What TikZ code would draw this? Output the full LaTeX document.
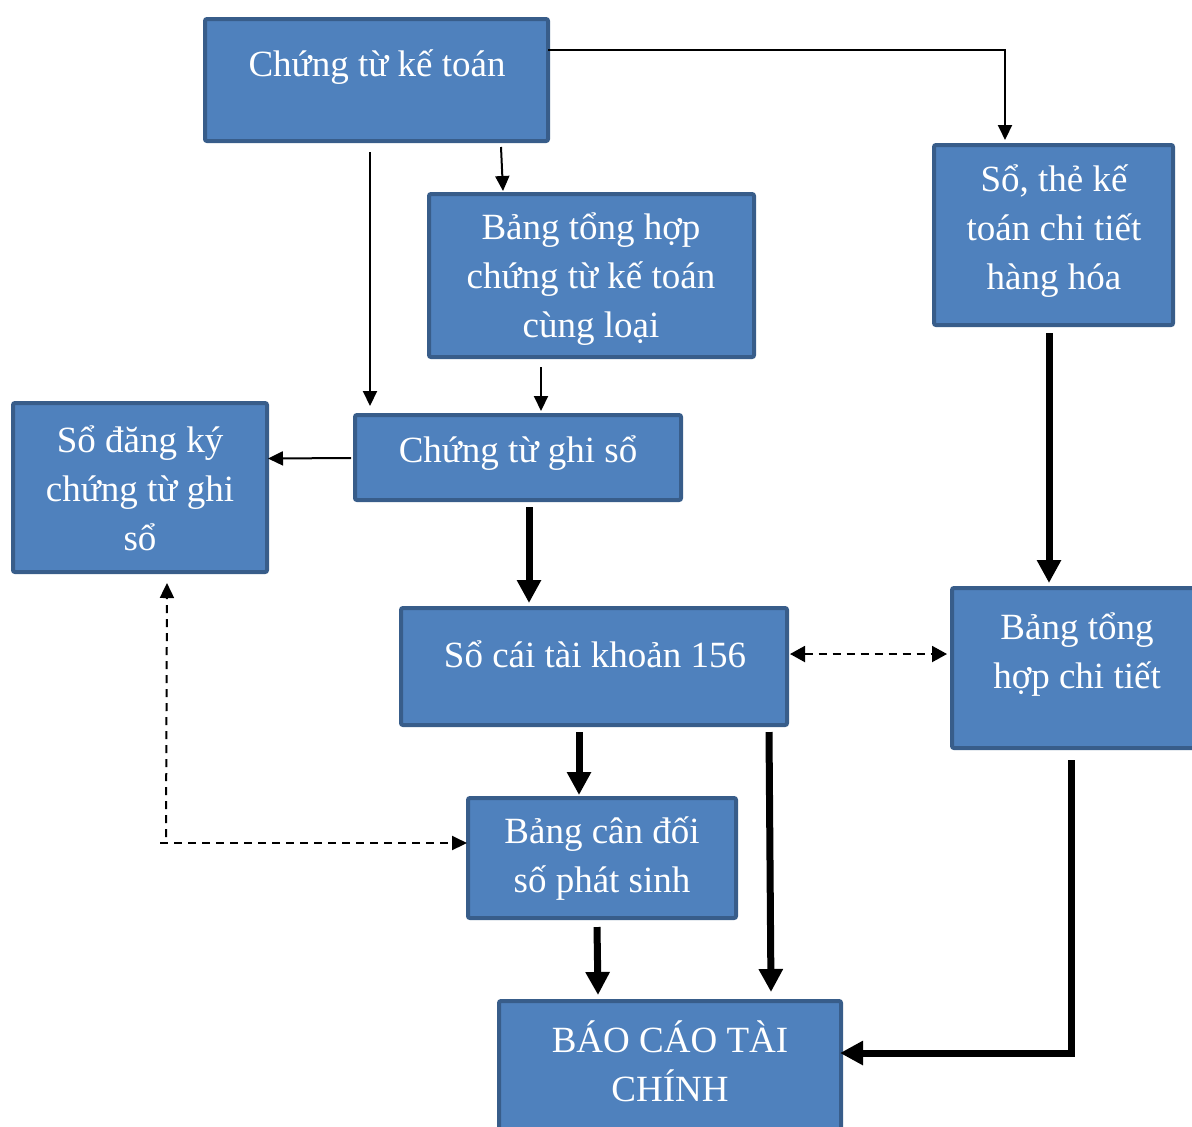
\documentclass[tikz,border=0pt]{standalone}
\usepackage{fontspec}
\setmainfont{Liberation Serif}
\usetikzlibrary{arrows.meta,calc}
\definecolor{boxfill}{HTML}{4F81BD}
\definecolor{boxedge}{HTML}{385D8A}

\begin{document}
\begin{tikzpicture}[x=0.5pt,y=-0.5pt,
  box/.style={draw=boxedge, fill=boxfill, line width=2pt, rounded corners=1pt,
    inner sep=0pt, outer sep=0pt},
  txt/.style={text=white, align=center, inner sep=0pt,
    font=\fontsize{18.5}{24.5}\selectfont},
  thinarrow/.style={line width=1pt, -{Triangle[length=7.5pt,width=7pt]}},
  heavyarrow/.style={line width=3.5pt, -{Triangle[length=11.5pt,width=11.5pt]}},
  dasharrow/.style={line width=1pt, dash pattern=on 4pt off 3pt}]
\useasboundingbox (0,0) rectangle (1192,1126);
\clip (0,0) rectangle (1192,1126);

% boxes
\node[box, minimum width=171.5pt, minimum height=61pt]  (b1) at (376.5,80) {};
\node[box, minimum width=162.5pt, minimum height=81.5pt] (b2) at (591.5,275.5) {};
\node[box, minimum width=119.5pt, minimum height=90pt]  (b3) at (1053.5,235) {};
\node[box, minimum width=127pt,   minimum height=84.5pt] (b4) at (140,487.5) {};
\node[box, minimum width=163pt,   minimum height=42.5pt] (b5) at (518,457.5) {};
\node[box, minimum width=193pt,   minimum height=58.5pt] (b6) at (594,666.5) {};
\node[box, minimum width=125pt,   minimum height=80pt]  (b7) at (1077,668) {};
\node[box, minimum width=134pt,   minimum height=60pt]  (b8) at (602,858) {};
\node[box, minimum width=171pt,   minimum height=68.5pt] (b9) at (670,1069.5) {};

% box texts
\node[txt] (t1) at (377,67)   {Chứng từ kế toán};
\node[txt] (t2) at (591,279)  {Bảng tổng hợp\\chứng từ kế toán\\cùng loại};
\node[txt] (t3) at (1054,231) {Sổ, thẻ kế\\toán chi tiết\\hàng hóa};
\node[txt] (t4) at (140,488)  {Sổ đăng ký\\chứng từ ghi\\sổ};
\node[txt] (t5) at (518,453)  {Chứng từ ghi sổ};
\node[txt] (t6) at (595,654)  {Sổ cái tài khoản 156};
\node[txt] (t7) at (1077,655) {Bảng tổng\\hợp chi tiết};
\node[txt] (t8) at (602,859)  {Bảng cân đối\\số phát sinh};
\node[txt] (t9) at (670,1061) {BÁO CÁO TÀI\\CHÍNH};

% thin connectors
\draw[thinarrow] ($(b1.east)+(0,-30)$) -| ($(b3.north)+(-48.5,-5)$);
\draw[thinarrow] ($(b1.south)+(-6.5,11)$) -- ($(b5.north)+(-148,-9)$);
\draw[thinarrow] ($(b1.south)+(124.5,6)$) -- ($(b2.north)+(-88.5,-3)$);
\draw[thinarrow] ($(b2.south)+(-50.5,10)$) -- ($(b5.north)+(23,-4)$);
\draw[thinarrow] ($(b5.west)+(-4,0.5)$) -- ($(b4.east)+(1,-29)$);

% heavy connectors
\draw[heavyarrow] ($(b5.south)+(11,7)$) -- ($(b6.north)+(-65,-5)$);
\draw[heavyarrow] ($(b3.south)+(-4.5,8)$) -- ($(b7.north)+(-28,-5)$);
\draw[heavyarrow] ($(b6.south)+(-15,7)$) -- ($(b8.north)+(-23,-3)$);
\draw[heavyarrow] ($(b6.south)+(175,7)$) -- ($(b9.north)+(101,-9)$);
\draw[heavyarrow] ($(b8.south)+(-5,9)$) -- ($(b9.north)+(-72,-6)$);
\draw[heavyarrow] ($(b7.south)+(-6,12)$) |- ($(b9.east)+(-1,-16.5)$);

% dashed connectors
\draw[dasharrow, {Triangle[length=7.5pt,width=8pt]}-{Triangle[length=7.5pt,width=8pt]}]
  ($(b6.east)+(3,-12.5)$) -- ($(b7.west)+(-5,-14)$);
\coordinate (corner) at (160,843);
\draw[dasharrow, -{Triangle[length=7.5pt,width=7pt]}] (corner) -- ($(b8.west)+(-1,-15)$);
\draw[dasharrow, -{Triangle[length=7.5pt,width=7pt]}] ($(corner)+(6,-6)$) -- ($(b4.south)+(27,11)$);
\end{tikzpicture}
\end{document}
